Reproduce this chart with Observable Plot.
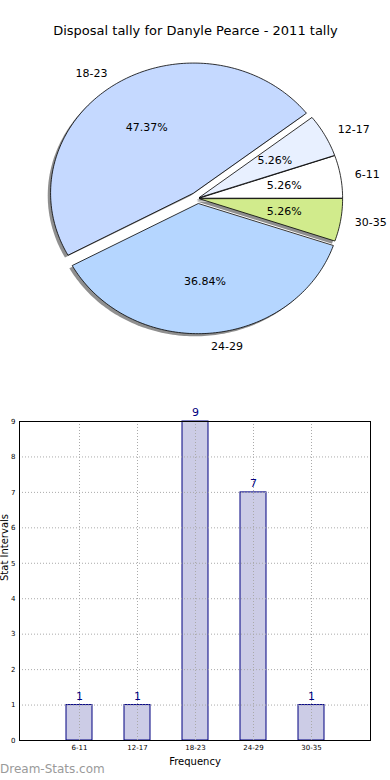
<!DOCTYPE html>
<html>
<head>
<meta charset="utf-8">
<script src="https://cdn.jsdelivr.net/npm/d3@7"></script>
<script src="https://cdn.jsdelivr.net/npm/@observablehq/plot@0.6"></script>
<style>
  body { margin: 0; background: #fff; font-family: "DejaVu Sans", sans-serif; }
  #wrap { position: relative; width: 390px; height: 780px; overflow: hidden; }
  #pie, #bar { display: block; line-height: 0; }
  #credit { position: absolute; left: 0; top: 762px; font-size: 12px; color: #9a9a9a; font-family: "DejaVu Sans", sans-serif; }
</style>
</head>
<body>
<div id="wrap">
  <div id="pie"></div>
  <div id="bar"></div>
  <div id="credit">Dream-Stats.com</div>
</div>
<script>
// ---- data ----
const title = "Disposal tally for Danyle Pearce - 2011 tally";
const categories = ["6-11", "12-17", "18-23", "24-29", "30-35"];
const counts = [1, 1, 9, 7, 1];
const sliceColors = ["#ffffff", "#e8f0ff", "#c5d9ff", "#b5d6ff", "#d1eb8c"];
const explode = [0.015, 0.015, 0.05, 0.04, 0.015];
const yTicks = [0, 1, 2, 3, 4, 5, 6, 7, 8, 9];
const xLabel = "Frequency";
const yLabel = "Stat Intervals";

// ---- pie geometry (in unit-radius data space) ----
const total = d3.sum(counts);
const cum = d3.cumsum(counts);
const slices = categories.map((cat, i) => {
  const t1 = 2 * Math.PI * (cum[i] - counts[i]) / total;
  const t2 = 2 * Math.PI * cum[i] / total;
  const tm = (t1 + t2) / 2;
  const cx = explode[i] * Math.cos(tm), cy = explode[i] * Math.sin(tm);
  return {cat, i, t1, t2, tm, cx, cy, color: sliceColors[i],
    lx: cx + 1.1 * Math.cos(tm), ly: cy + 1.1 * Math.sin(tm),
    px: cx + 0.6 * Math.cos(tm), py: cy + 0.6 * Math.sin(tm),
    pct: d3.format(".2f")(100 * counts[i] / total) + "%"};
});
function slicePoints(s, ox, oy) {
  const pts = [{cat: s.cat, color: s.color, x: s.cx + ox, y: s.cy + oy}];
  const n = Math.max(4, Math.ceil((s.t2 - s.t1) / 0.02));
  for (let k = 0; k <= n; k++) {
    const t = s.t1 + (s.t2 - s.t1) * k / n;
    pts.push({cat: s.cat, color: s.color, x: s.cx + ox + Math.cos(t), y: s.cy + oy + Math.sin(t)});
  }
  return pts;
}
const piePts = slices.flatMap(s => slicePoints(s, 0, 0));
const shadowPts = slices.flatMap(s => slicePoints(s, -0.02, -0.02));

const W = 390, PH = 370;
const CX = 197, CY = 198, RX = 143, RY = 130;

const pie = Plot.plot({
  width: W, height: PH,
  marginTop: 0, marginBottom: 0, marginLeft: 0, marginRight: 0,
  style: {fontFamily: "DejaVu Sans, sans-serif", background: "#fff"},
  x: {domain: [-CX / RX, (W - CX) / RX], axis: null},
  y: {domain: [(CY - PH) / RY, CY / RY], axis: null},
  color: {type: "identity"},
  marks: [
    Plot.text([title], {frameAnchor: "top", dy: 30, lineAnchor: "middle", fontSize: 13, fill: "#000"}),
    Plot.line(shadowPts, {x: "x", y: "y", z: "cat", fill: "#333", fillOpacity: 0.55, stroke: "none", curve: "linear-closed"}),
    Plot.line(piePts, {x: "x", y: "y", z: "cat", fill: "color", stroke: "#000", strokeWidth: 0.8, curve: "linear-closed"}),
    Plot.text(slices.filter(s => Math.cos(s.tm) > 0), {x: "lx", y: "ly", text: "cat", textAnchor: "start", fontSize: 11, fill: "#000"}),
    Plot.text(slices.filter(s => Math.cos(s.tm) <= 0), {x: "lx", y: "ly", text: "cat", textAnchor: "end", fontSize: 11, fill: "#000"}),
    Plot.text(slices, {x: "px", y: "py", text: "pct", fontSize: 11, fill: "#000"})
  ]
});
document.getElementById("pie").appendChild(pie);

// ---- bar chart ----
const barData = categories.map((cat, i) => ({cat, count: counts[i]}));
const bar = Plot.plot({
  width: W, height: 410,
  marginTop: 51, marginBottom: 40, marginLeft: 19, marginRight: 20,
  style: {fontFamily: "DejaVu Sans, sans-serif", background: "#fff"},
  x: {type: "band", domain: categories, paddingInner: 0.555, paddingOuter: 0.778, axis: null},
  y: {domain: [0, 9], axis: null},
  marks: [
    Plot.barY(barData, {x: "cat", y: "count", fill: "#ccccE6", stroke: "#000080", strokeWidth: 1}),
    Plot.gridY(yTicks, {stroke: "#aaa", strokeOpacity: 1, strokeDasharray: "1,2", strokeWidth: 1}),
    Plot.gridX(categories, {stroke: "#aaa", strokeOpacity: 1, strokeDasharray: "1,2", strokeWidth: 1}),
    Plot.text(barData, {x: "cat", y: "count", text: d => String(d.count), dy: -9, fill: "#000080", fontSize: 11}),
    Plot.frame({stroke: "#000", strokeWidth: 1}),
    Plot.axisY(yTicks, {tickSize: 0, tickPadding: 4, fontSize: 7, fill: "#000", tickFormat: d => String(d), label: null}),
    Plot.axisX({tickSize: 0, tickPadding: 5, fontSize: 7, fill: "#000", label: null}),
    Plot.text([xLabel], {frameAnchor: "bottom", dy: 21, lineAnchor: "middle", fontSize: 10, fill: "#000"}),
    Plot.text([yLabel], {frameAnchor: "left", dx: -15, rotate: -90, fontSize: 10, fill: "#000"})
  ]
});
document.getElementById("bar").appendChild(bar);
</script>
</body>
</html>
